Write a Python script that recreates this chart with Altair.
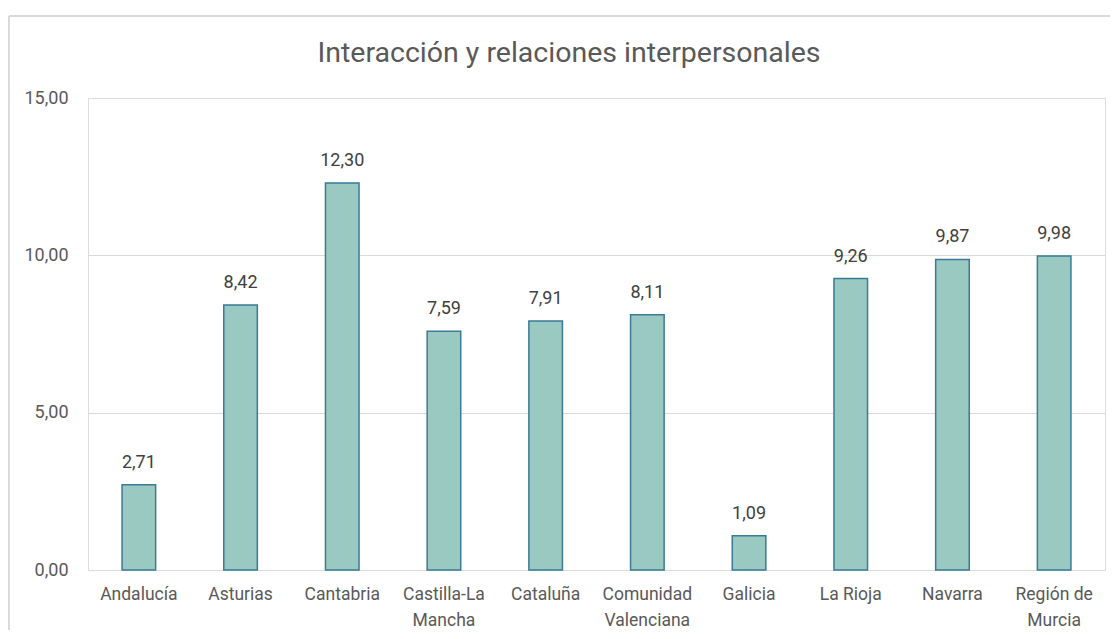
import altair as alt
import pandas as pd

categories = ["Andalucía", "Asturias", "Cantabria", "Castilla-La|Mancha", "Cataluña",
              "Comunidad|Valenciana", "Galicia", "La Rioja", "Navarra", "Región de|Murcia"]
values = [2.71, 8.42, 12.30, 7.59, 7.91, 8.11, 1.09, 9.26, 9.87, 9.98]
y_ticks = [0, 5, 10, 15]
title = "Interacción y relaciones interpersonales"

df = pd.DataFrame({"region": categories, "value": values})
df["label"] = df["value"].map(lambda v: f"{v:.2f}".replace(".", ","))

FONT = "Roboto"
GRAY = "#595959"

x = alt.X("region:N", sort=categories, title=None,
          scale=alt.Scale(paddingInner=0.67, paddingOuter=0.335),
          axis=alt.Axis(labelAngle=0, labelExpr="split(datum.label, '|')",
                        labelLineHeight=26, labelPadding=24, ticks=False,
                        domain=False, grid=False, labelFont=FONT, labelFontSize=17.5,
                        labelColor=GRAY, labelBaseline="middle"))
y = alt.Y("value:Q", title=None,
          scale=alt.Scale(domain=[0, 15], nice=False),
          axis=alt.Axis(values=y_ticks, labelExpr="replace(format(datum.value, '.2f'), '.', ',')",
                        ticks=False, domain=False, gridColor="#D9D9D9", gridWidth=1,
                        labelPadding=20, labelFont=FONT, labelFontSize=18, labelColor=GRAY))

base = alt.Chart(df)
bars = base.mark_bar(fill="#99C9C0", stroke="#3A7A96", strokeWidth=1.5).encode(x=x, y=y)
texts = base.mark_text(baseline="bottom", dy=-13, font=FONT, fontSize=18, color="#404040").encode(
    x=alt.X("region:N", sort=categories), y="value:Q", text="label:N")

title_mark = alt.Chart(pd.DataFrame({"t": [title]})).mark_text(
    font=FONT, fontSize=28.5, color=GRAY, baseline="middle", align="center").encode(
    x=alt.value(481), y=alt.value(-45), text="t:N")

border_top = alt.Chart(df).mark_rule(color="#D9D9D9", strokeWidth=1.5).encode(
    x=alt.value(-79), x2=alt.value(1040), y=alt.value(-82))
border_left = alt.Chart(df).mark_rule(color="#D9D9D9", strokeWidth=1.5).encode(
    x=alt.value(-79), y=alt.value(-82), y2=alt.value(560))

chart = alt.layer(border_top, border_left, bars, texts, title_mark).properties(
    width=1017, height=472,
    padding={"left": 80, "top": 90, "right": 5, "bottom": 60},
    autosize=alt.AutoSizeParams(type="none"),
).configure_view(strokeWidth=0).configure(background="white")

chart.save("out.html", embed_options={"renderer": "svg", "actions": False})
